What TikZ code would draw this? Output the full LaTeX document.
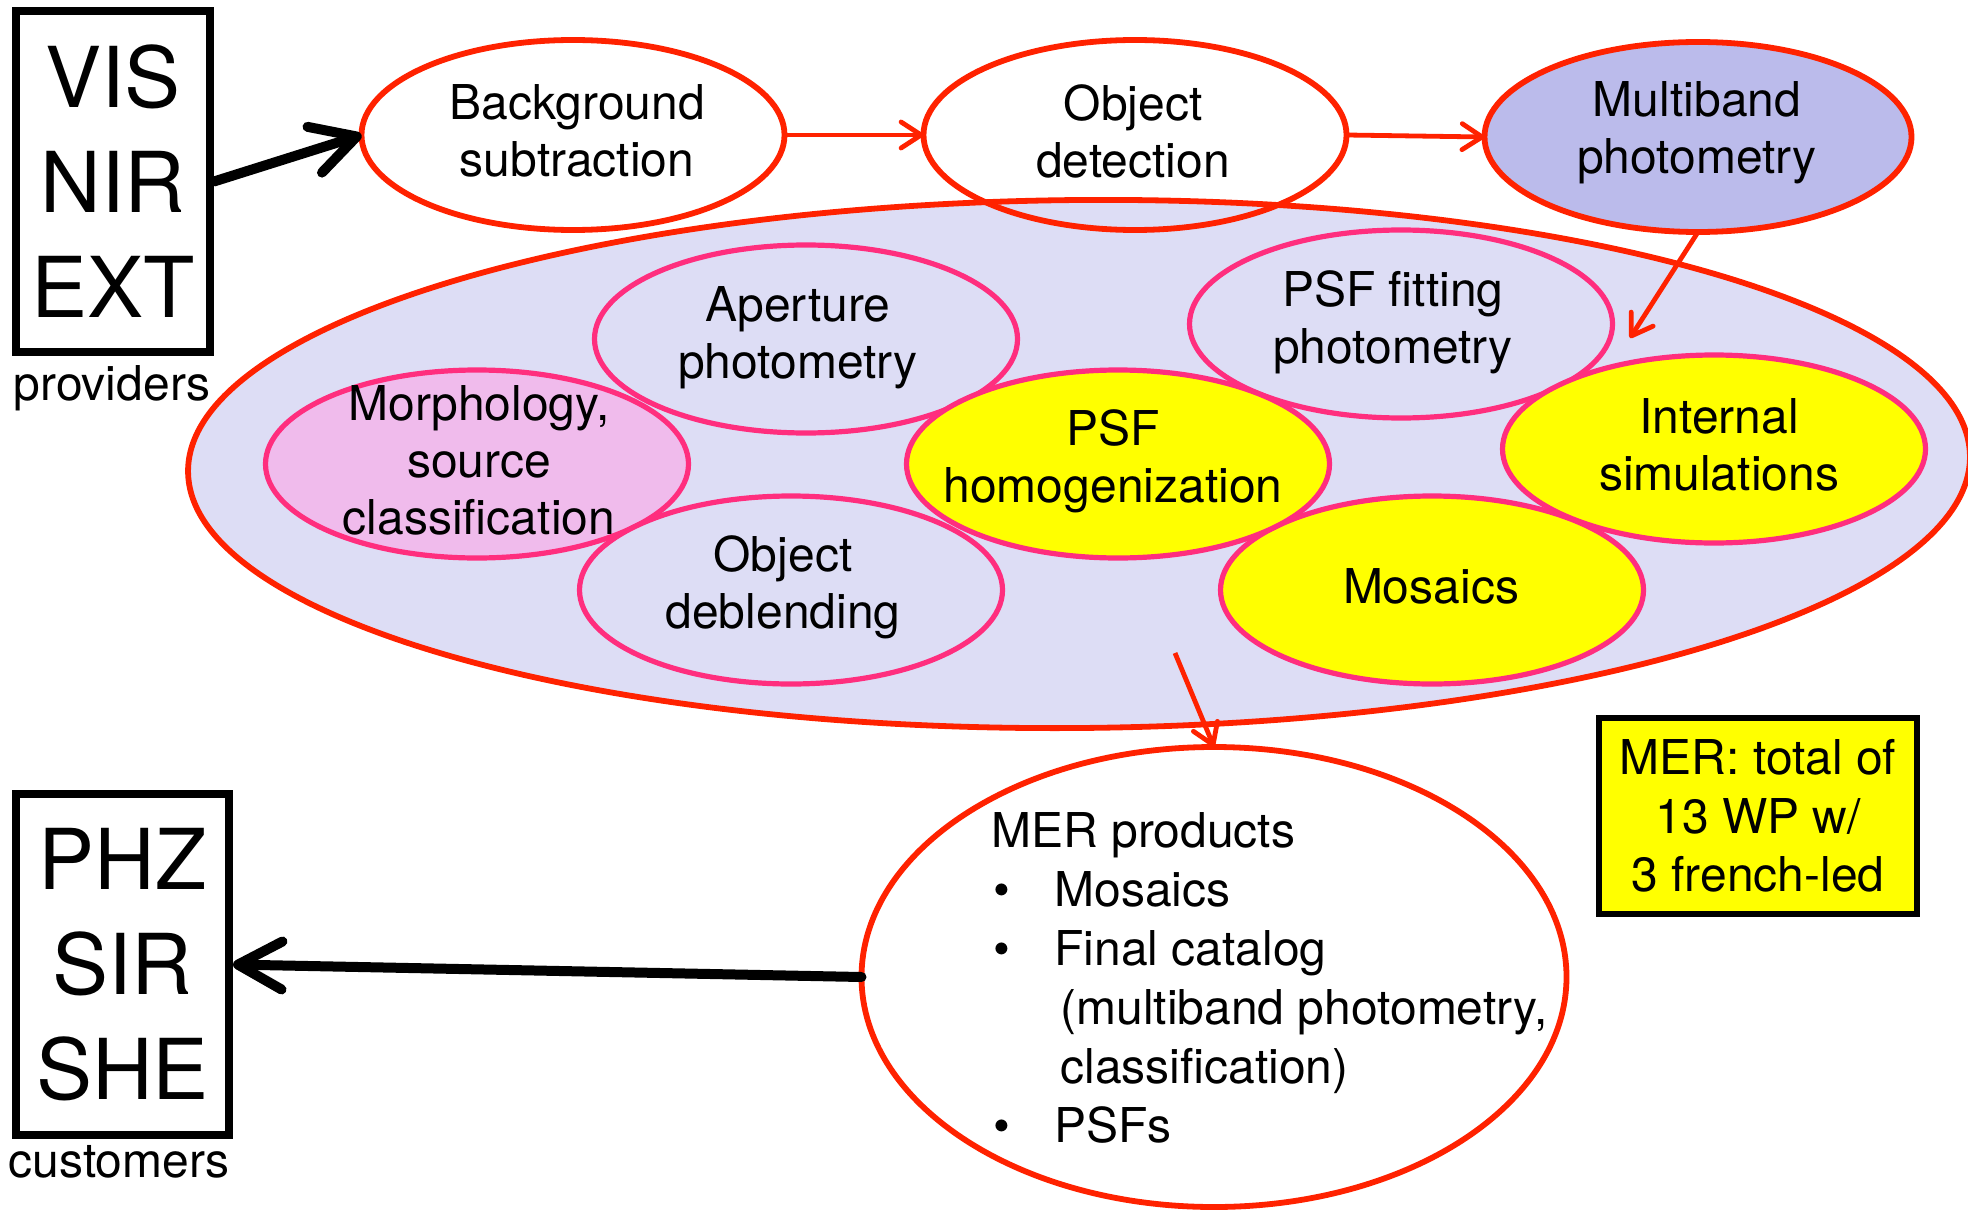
\documentclass[tikz,border=0pt]{standalone}
\usepackage{fontspec}
\setmainfont{TeX Gyre Heros}
\usetikzlibrary{shapes.geometric,arrows.meta}
\definecolor{mred}{HTML}{FF2200}
\definecolor{mpink}{HTML}{FF2E7E}
\definecolor{lav}{HTML}{DDDDF5}
\definecolor{lavdark}{HTML}{BBBBEB}
\definecolor{mpinkfill}{HTML}{F0BBEC}
\definecolor{myellow}{HTML}{FFFF00}
\begin{document}
\begin{tikzpicture}[x=0.5pt,y=-0.5pt,
  px/.style 2 args={minimum width=#1*0.5pt, minimum height=#2*0.5pt},
  ell/.style={ellipse, draw=mred, line width=2.9pt, inner sep=0pt, outer sep=0pt},
  inell/.style={ellipse, draw=mpink, line width=2.6pt, inner sep=0pt, outer sep=0pt, fill=lav},
  txt/.style={align=center, inner sep=0pt, font=\fontsize{24pt}{28.5pt}\selectfont},
  bigtxt/.style={align=center, font=\fontsize{42pt}{52.5pt}\selectfont},
  box/.style={draw=black, line width=4pt, px={194}{341}},
  redarr/.style={draw=mred, line width=2.4pt, -{Straight Barb[length=10pt,width=13pt,round]}},
  blkarr/.style={draw=black, line width=5pt, line cap=round, -{Straight Barb[length=22pt,width=24pt,round]}}
]
\useasboundingbox (0,0) rectangle (1968,1209);
\fill[white] (0,0) rectangle (1968,1209);

% big container ellipse
\node[ellipse, draw=mred, fill=lav, line width=2.9pt, inner sep=0pt, outer sep=0pt, px={1782}{528}, rotate=0.5] (big) at (1079,464) {};

% inner ellipses
\node[inell, px={423}{188}, fill=mpinkfill] (morph) at (477,464) {};
\node[inell, px={423}{188}] (aper) at (806,339) {};
\node[inell, px={423}{188}] (debl) at (791,590) {};
\node[inell, px={423}{188}] (psffit) at (1401,324) {};
\node[inell, px={423}{188}, fill=myellow] (mos) at (1432,590) {};
\node[inell, px={423}{188}, fill=myellow] (intsim) at (1714,449) {};
\node[inell, px={423}{188}, fill=myellow] (psfhom) at (1118,464) {};

% top row
\node[ell, px={423}{190}] (bg) at (573,135) {};
\node[ell, px={423}{190}] (od) at (1135,135) {};
\node[ell, px={427}{190}, fill=lavdark] (mb) at (1698,137) {};

% products
\node[ell, px={705}{460}] (mer) at (1214,977) {};

% texts
\node[txt] (bgt) at (577,131) {Background\\subtraction};
\node[txt] (odt) at (1133,131) {Object\\detection};
\node[txt] (mbt) at (1697,133) {Multiband\\photometry};
\node[txt] (apt) at (798,338) {Aperture\\photometry};
\node[txt] (pft) at (1393,322) {PSF fitting\\photometry};
\node[txt] (mot) at (479,460) {Morphology,\\source\\classification};
\node[txt] (pht) at (1113,461) {PSF\\homogenization};
\node[txt] (ist) at (1719,445) {Internal\\simulations};
\node[txt] (dbt) at (783,587) {Object\\deblending};
\node[txt] (mst) at (1431,586) {Mosaics};

\node[draw, line width=3pt, fill=myellow, px={318}{196}, align=center,
      font=\fontsize{24pt}{29.2pt}\selectfont] (merbox) at (1758,816)
      {MER: total of\\13 WP w/\\3 french-led};

\node[box, bigtxt] (vis) at (113,181.5) {VIS\\NIR\\EXT};
\node[box, bigtxt, px={213}{341}] (phz) at (122.5,964.5) {PHZ\\SIR\\SHE};

\node[txt, anchor=base] (prov) at (112,400) {providers};
\node[txt, anchor=base] (cust) at (119,1177) {customers};

\node[anchor=north west, align=left, inner sep=0pt,
      font=\fontsize{24pt}{29.5pt}\selectfont] (merl) at (991,812)
 {MER products\\
  \hspace*{1pt}\makebox[30.5pt][l]{\textbullet}Mosaics\\
  \hspace*{1pt}\makebox[30.5pt][l]{\textbullet}Final catalog\\
  \hspace*{34.5pt}(multiband photometry,\\
  \hspace*{34.5pt}classification)\\
  \hspace*{1pt}\makebox[30.5pt][l]{\textbullet}PSFs};

% connectors
\draw[blkarr] (vis.east) -- (bg.west);
\draw[blkarr] (mer.west) -- (phz.east);
\draw[redarr] (bg.east) -- (od.west);
\draw[redarr] (od.east) -- (mb.west);
\coordinate (simin) at (1630,338);
\draw[redarr] (mb.south) -- (simin);
\coordinate (merin) at (1175,653);
\draw[redarr] (merin) -- (mer.north);
\end{tikzpicture}
\end{document}
